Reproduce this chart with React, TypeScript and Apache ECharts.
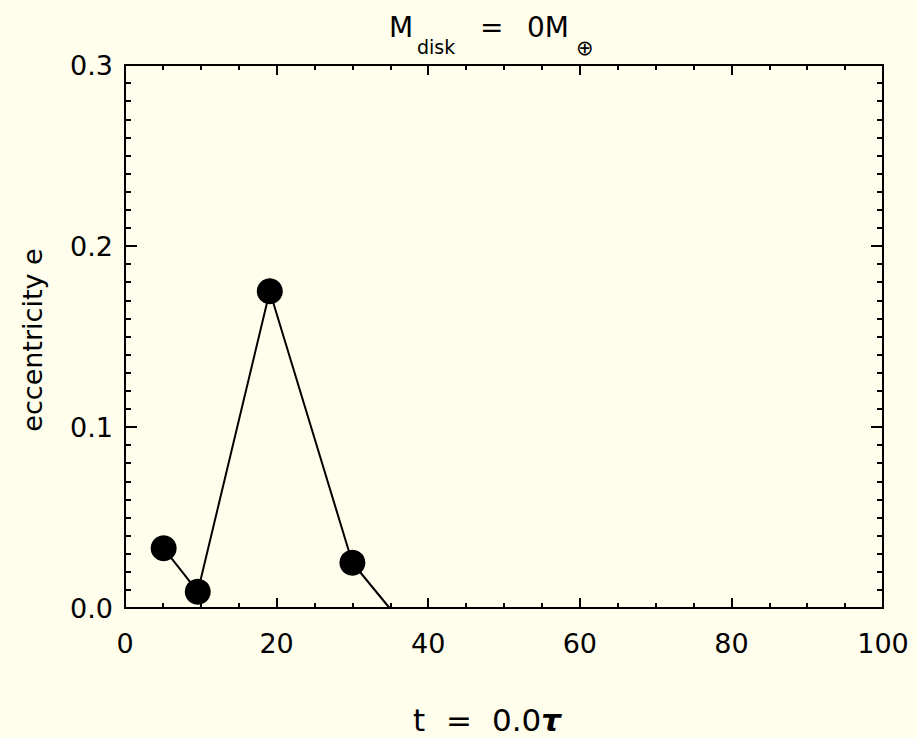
import React, { useEffect, useRef } from "react";
import * as echarts from "echarts";

const tValues = [5.1, 9.6, 19.1, 30.0, 34.9];
const eValues = [0.033, 0.009, 0.175, 0.025, 0.0];
const xTicks = [0, 20, 40, 60, 80, 100];
const yTicks = [0.0, 0.1, 0.2, 0.3];

const FONT = "DejaVu Sans";
const FW = "normal";
const BG = "#FFFDEB";

export default function App() {
  const ref = useRef<HTMLDivElement>(null);
  useEffect(() => {
    if (!ref.current) return;
    const chart = echarts.init(ref.current, undefined, { renderer: "svg" });
    const data = tValues.map((t, i) =>
      i === tValues.length - 1
        ? { value: [t, eValues[i]], symbol: "none" }
        : { value: [t, eValues[i]] }
    );
    const axisLine = { show: true, onZero: false, lineStyle: { color: "#000", width: 2 } };
    const xCommon = {
      type: "value" as const,
      min: xTicks[0],
      max: xTicks[xTicks.length - 1],
      interval: 20,
      axisLine,
      axisTick: { show: true, inside: true, length: 10, lineStyle: { color: "#000", width: 2 } },
      minorTick: { show: true, splitNumber: 4, length: 5, lineStyle: { color: "#000", width: 2 } },
      splitLine: { show: false },
    };
    const yCommon = {
      type: "value" as const,
      min: yTicks[0],
      max: yTicks[yTicks.length - 1],
      interval: 0.1,
      axisLine,
      axisTick: { show: true, inside: true, length: 12, lineStyle: { color: "#000", width: 2 } },
      minorTick: { show: true, splitNumber: 10, length: 6, lineStyle: { color: "#000", width: 2 } },
      splitLine: { show: false },
    };
    const txt = (text: string, x: number, y: number, size: number, extra: any = {}) => ({
      type: "text",
      x,
      y,
      style: {
        text,
        fontSize: size,
        fontFamily: FONT,
        fontWeight: FW,
        fill: "#000",
        verticalAlign: "middle",
        ...extra,
      },
    });
    chart.setOption({
      animation: false,
      backgroundColor: BG,
      grid: { left: 125, right: 34, top: 65, bottom: 130, containLabel: false },
      xAxis: [
        {
          ...xCommon,
          position: "bottom",
          axisLabel: { show: true, color: "#000", fontFamily: FONT, fontWeight: FW, fontSize: 27, margin: 22 },
        },
        { ...xCommon, position: "top", axisLabel: { show: false } },
      ],
      yAxis: [
        {
          ...yCommon,
          position: "left",
          axisLabel: {
            show: true,
            color: "#000",
            fontFamily: FONT,
            fontWeight: FW,
            fontSize: 27,
            margin: 12,
            formatter: (v: number) => v.toFixed(1),
          },
        },
        { ...yCommon, position: "right", axisLabel: { show: false } },
      ],
      graphic: [
        txt("M", 389, 27, 28),
        txt("disk", 417, 47, 19),
        txt("=", 480, 27, 28),
        txt("0M", 527, 27, 28),
        txt("⊕", 576, 48, 21),
        txt("t", 413, 720, 31),
        txt("=", 446, 720, 31),
        {
          type: "text",
          x: 492,
          y: 720,
          style: {
            text: "{n|0.0}{b|τ}",
            verticalAlign: "middle",
            rich: {
              n: { fontSize: 31, fontFamily: FONT, fontWeight: FW, fill: "#000" },
              b: { fontSize: 31, fontFamily: FONT, fontWeight: "bold", fontStyle: "italic", fill: "#000" },
            },
          },
        },
        {
          type: "text",
          x: 32,
          y: 340,
          rotation: Math.PI / 2,
          style: {
            text: "eccentricity e",
            fontSize: 27,
            fontFamily: FONT,
            fontWeight: FW,
            fill: "#000",
            align: "center",
            verticalAlign: "middle",
          },
        },
      ],
      series: [
        {
          type: "line",
          data,
          xAxisIndex: 0,
          yAxisIndex: 0,
          symbol: "circle",
          symbolSize: 26,
          itemStyle: { color: "#000" },
          lineStyle: { color: "#000", width: 2 },
          clip: true,
        },
      ],
    });
    return () => chart.dispose();
  }, []);
  return <div ref={ref} style={{ width: 917, height: 738, position: "absolute", left: 0, top: 0 }} />;
}
